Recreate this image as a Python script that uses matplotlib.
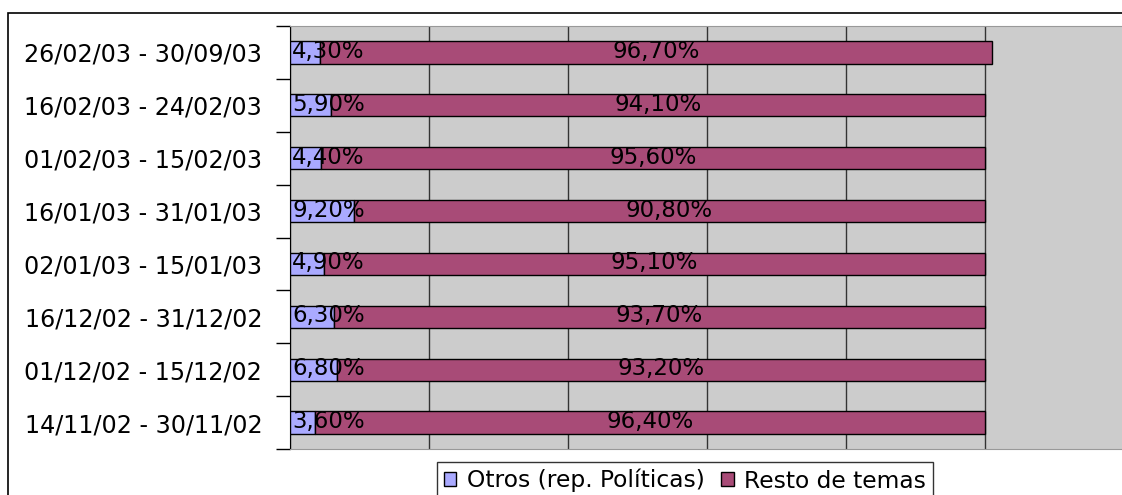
import matplotlib
matplotlib.use("Agg")
import matplotlib.pyplot as plt
from matplotlib.patches import Rectangle
from matplotlib.ticker import FixedLocator

plt.rcParams['font.family'] = ['DejaVu Sans']

periodos = ["14/11/02 - 30/11/02", "01/12/02 - 15/12/02", "16/12/02 - 31/12/02",
            "02/01/03 - 15/01/03", "16/01/03 - 31/01/03", "01/02/03 - 15/02/03",
            "16/02/03 - 24/02/03", "26/02/03 - 30/09/03"]
otros = [3.6, 6.8, 6.3, 4.9, 9.2, 4.4, 5.9, 4.3]
resto = [96.4, 93.2, 93.7, 95.1, 90.8, 95.6, 94.1, 96.7]

col_otros = "#aaaaff"
col_resto = "#a84b77"
fs = 16.5

fig = plt.figure(figsize=(11.22, 4.95), dpi=100)
# outer chart frame, runs off the right and bottom edges
fig.patches.append(Rectangle((8 / 1122, -0.1), 1.2, 1 - 13 / 495 + 0.1,
                             transform=fig.transFigure, fill=False,
                             edgecolor="black", linewidth=1.2, zorder=0))

ax = fig.add_axes([290 / 1122, 1 - 449 / 495, 834 / 1122, 423 / 495])
ax.set_facecolor("#cccccc")

y = range(len(periodos))
b1 = ax.barh(y, otros, height=0.42, color=col_otros, edgecolor="black",
             linewidth=1, label="Otros (rep. Políticas)", zorder=3)
b2 = ax.barh(y, resto, left=otros, height=0.42, color=col_resto,
             edgecolor="black", linewidth=1, label="Resto de temas", zorder=3)

for i in y:
    ax.text(0.3, i + 0.02, f"{otros[i]:.2f}%".replace(".", ","), ha="left",
            va="center", fontsize=fs, zorder=5)
    ax.text(otros[i] + resto[i] / 2, i + 0.02, f"{resto[i]:.2f}%".replace(".", ","),
            ha="center", va="center", fontsize=fs, zorder=5)

ax.set_xlim(0, 120)
ax.set_ylim(-0.5, len(periodos) - 0.5)
ax.set_xticks(range(0, 121, 20))
ax.tick_params(axis="x", length=0, labelbottom=False)
ax.grid(axis="x", color="#333333", linewidth=1, zorder=1)

ax.set_yticks(list(y))
ax.set_yticklabels(periodos, fontsize=17.2)
ax.tick_params(axis="y", which="major", length=0, pad=20)
ax.yaxis.set_minor_locator(FixedLocator([i - 0.5 for i in range(len(periodos) + 1)]))
ax.tick_params(axis="y", which="minor", length=10, width=1, color="black")

ax.spines["left"].set_color("black")
for s in ("top", "bottom", "right"):
    ax.spines[s].set_color("#999999")

leg = ax.legend(loc="upper center", bbox_to_anchor=(685 / 1122, 1 - 462 / 495),
                bbox_transform=fig.transFigure, ncol=2, fontsize=16.8,
                frameon=True, fancybox=False, borderpad=0.3,
                handlelength=0.55, handleheight=0.55, handletextpad=0.45,
                columnspacing=0.7, borderaxespad=0)
leg.get_frame().set_edgecolor("black")
leg.get_frame().set_linewidth(1)

fig.savefig("out.png", dpi=100)
